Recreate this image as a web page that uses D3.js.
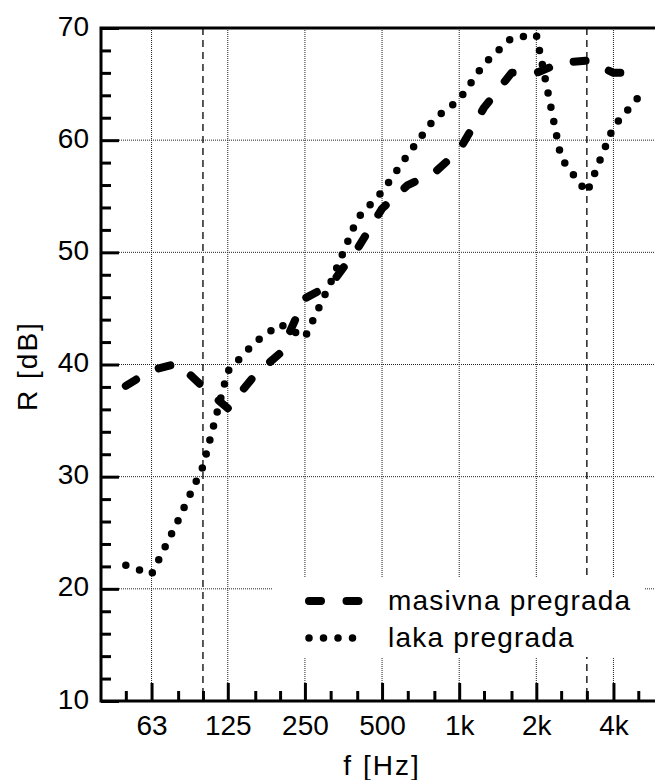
<!DOCTYPE html>
<html>
<head>
<meta charset="utf-8">
<script src="https://cdn.jsdelivr.net/npm/d3@7"></script>
<style>
  body { margin: 0; background: #fff; }
  svg { display: block; font-family: "Liberation Sans", Arial, sans-serif; }
</style>
</head>
<body>
<div class="chart"></div>
<script>
// third-octave band centre frequencies (Hz)
var bands = [50, 63, 80, 100, 125, 160, 200, 250, 315, 400, 500, 630, 800, 1000, 1250, 1600, 2000, 2500, 3150, 4000, 5000];

// sound reduction index R [dB] per band
var masivna = [38.1, 39.5, 40.1, 38.0, 36.1, 39.1, 41.0, 45.9, 47.1, 50.3, 53.9, 56.0, 57.1, 59.1, 62.9, 66.0, 66.0, 66.9, 67.1, 66.0, 66.0];
var laka = [22.1, 21.3, 26.1, 30.9, 39.4, 42.0, 43.6, 42.4, 47.3, 53.0, 55.4, 58.7, 61.9, 63.6, 66.8, 69.1, 69.4, 58.4, 55.3, 61.2, 63.8];

var seriesNames = ["masivna pregrada", "laka pregrada"];

// axis ticks
var xMajor = [63, 125, 250, 500, 1000, 2000, 4000];
var xMajorLabels = ["63", "125", "250", "500", "1k", "2k", "4k"];
var xMarkers = [100, 3150];
var yMajor = [10, 20, 30, 40, 50, 60, 70];
var yMinor = [12, 14, 16, 18, 22, 24, 26, 28, 32, 34, 36, 38, 42, 44, 46, 48, 52, 54, 56, 58, 62, 64, 66, 68];
var yGrid = [20, 30, 40, 50, 60];

// setting up the chart
var widthSVG = 655;
var heightSVG = 780;

var margins = { top: 28, right: -9, bottom: 79, left: 101 };

var width = widthSVG - margins.left - margins.right;
var height = heightSVG - margins.top - margins.bottom;

var svg = d3.select(".chart")
  .append("svg")
  .attr("width", widthSVG)
  .attr("height", heightSVG)
  .style("overflow", "hidden");

var g = svg.append("g")
  .attr("transform", `translate(${margins.left}, ${margins.top})`);

// scales
var x = d3.scaleLog()
  .domain([40, 6300])
  .range([0, width]);

var y = d3.scaleLinear()
  .domain([10, 70])
  .range([height, 0]);

// grid lines
g.selectAll(".vgrid")
  .data(xMajor)
  .enter()
  .append("line")
  .attr("x1", d => x(d))
  .attr("x2", d => x(d))
  .attr("y1", 0)
  .attr("y2", height - 18)
  .attr("stroke", "#222")
  .attr("stroke-width", 1)
  .attr("stroke-dasharray", "1,1");

g.selectAll(".hgrid")
  .data(yGrid)
  .enter()
  .append("line")
  .attr("x1", 18)
  .attr("x2", width)
  .attr("y1", d => y(d))
  .attr("y2", d => y(d))
  .attr("stroke", "#222")
  .attr("stroke-width", 1)
  .attr("stroke-dasharray", "1,1");

// dashed marker lines at 100 Hz and 3150 Hz
g.selectAll(".marker")
  .data(xMarkers)
  .enter()
  .append("line")
  .attr("x1", d => x(d))
  .attr("x2", d => x(d))
  .attr("y1", 0)
  .attr("y2", height)
  .attr("stroke", "#000")
  .attr("stroke-width", 1.3)
  .attr("stroke-dasharray", "7,5");

// the two curves
var line = d3.line()
  .x((d, i) => x(bands[i]))
  .y(d => y(d));

g.append("path")
  .datum(masivna)
  .attr("d", line)
  .attr("fill", "none")
  .attr("stroke", "#000")
  .attr("stroke-width", 8)
  .attr("stroke-linecap", "round")
  .attr("stroke-linejoin", "round")
  .attr("stroke-dasharray", "12,25.5");

g.append("path")
  .datum(laka)
  .attr("d", line)
  .attr("fill", "none")
  .attr("stroke", "#000")
  .attr("stroke-width", 7.5)
  .attr("stroke-linecap", "round")
  .attr("stroke-dasharray", "0,14.5");

// legend (white box hides the grid behind it)
var legend = g.append("g")
  .attr("transform", `translate(${273 - margins.left}, ${577 - margins.top})`);

legend.append("rect")
  .attr("width", 372)
  .attr("height", 80)
  .attr("fill", "#fff");

var legendRows = [
  { name: seriesNames[0], y: 24, dash: "12,25.5", width: 8 },
  { name: seriesNames[1], y: 61, dash: "0,14.5", width: 7.5 }
];

legendRows.forEach(function (r) {
  legend.append("line")
    .attr("x1", 36)
    .attr("x2", 94)
    .attr("y1", r.y)
    .attr("y2", r.y)
    .attr("stroke", "#000")
    .attr("stroke-width", r.width)
    .attr("stroke-linecap", "round")
    .attr("stroke-dasharray", r.dash);

  legend.append("text")
    .attr("x", 115)
    .attr("y", r.y + 9)
    .attr("font-size", 28)
    .attr("letter-spacing", "1.2px")
    .text(r.name);
});

// axes
var bottomAxis = d3.axisBottom(x)
  .tickValues(xMajor)
  .tickFormat((d, i) => xMajorLabels[i])
  .tickSizeInner(-18)
  .tickSizeOuter(0)
  .tickPadding(14);

var bottomMinor = d3.axisBottom(x)
  .tickValues(bands.filter(d => xMajor.indexOf(d) < 0))
  .tickFormat("")
  .tickSizeInner(-10)
  .tickSizeOuter(0);

var leftAxis = d3.axisLeft(y)
  .tickValues(yMajor)
  .tickSizeInner(-18)
  .tickSizeOuter(0)
  .tickPadding(12);

var leftMinor = d3.axisLeft(y)
  .tickValues(yMinor)
  .tickFormat("")
  .tickSizeInner(-10)
  .tickSizeOuter(0);

[bottomAxis, bottomMinor].forEach(function (a) {
  g.append("g")
    .attr("class", "axis")
    .attr("transform", `translate(0, ${height})`)
    .call(a);
});

[leftAxis, leftMinor].forEach(function (a) {
  g.append("g")
    .attr("class", "axis yaxis")
    .call(a);
});

g.selectAll(".axis .domain").remove();
g.selectAll(".axis line")
  .attr("stroke", "#000")
  .attr("stroke-width", 3);
g.selectAll(".axis text")
  .attr("font-size", 28)
  .attr("font-family", "Liberation Sans, Arial, sans-serif")
  .attr("fill", "#000");
// nudge y labels up a little, like the original
g.selectAll(".yaxis text")
  .attr("dy", "0.25em");

// frame
g.append("rect")
  .attr("width", width)
  .attr("height", height)
  .attr("fill", "none")
  .attr("stroke", "#000")
  .attr("stroke-width", 3);

// axis labels
g.append("text")
  .attr("transform", `translate(${27 - margins.left}, ${366 - margins.top}) rotate(-90)`)
  .attr("text-anchor", "middle")
  .attr("dy", "0.35em")
  .attr("font-size", 28)
  .attr("letter-spacing", "2px")
  .text("R [dB]");

g.append("text")
  .attr("x", 382 - margins.left)
  .attr("y", 775 - margins.top)
  .attr("text-anchor", "middle")
  .attr("font-size", 28)
  .attr("letter-spacing", "2px")
  .text("f [Hz]");
</script>
</body>
</html>
